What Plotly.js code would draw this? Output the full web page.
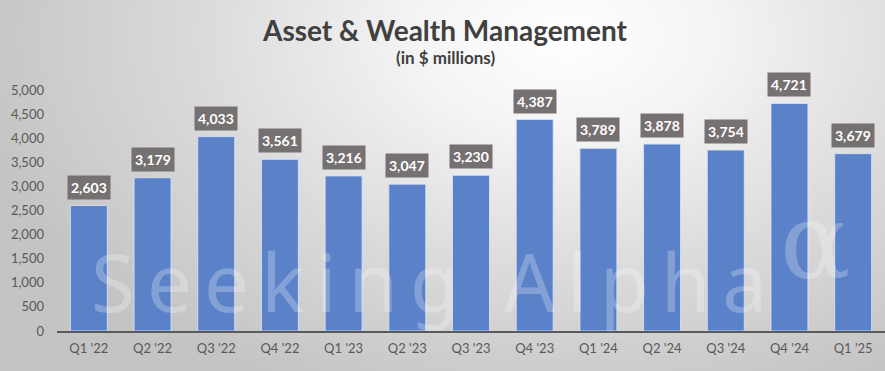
<!DOCTYPE html>
<html>
<head>
<meta charset="utf-8">
<script src="https://cdn.plot.ly/plotly-3.0.1.min.js"></script>
<style>
html,body{margin:0;padding:0;}
body{width:885px;height:371px;overflow:hidden;
background: radial-gradient(ellipse 68% 105% at 64% 10%, #ffffff 0%, #f4f4f4 25%, #dadada 62%, #c4c4c4 100%);}
#chart{width:885px;height:371px;}
g.annotation[data-index="13"] text{letter-spacing:12px;}
</style>
</head>
<body>
<div id="chart"></div>
<script>
const categories = ["Q1 '22","Q2 '22","Q3 '22","Q4 '22","Q1 '23","Q2 '23","Q3 '23","Q4 '23","Q1 '24","Q2 '24","Q3 '24","Q4 '24","Q1 '25"];
const revenue = [2603,3179,4033,3561,3216,3047,3230,4387,3789,3878,3754,4721,3679];
const yTicks = [0,500,1000,1500,2000,2500,3000,3500,4000,4500,5000];
const titleText = "Asset & Wealth Management";
const subtitleText = "(in $ millions)";
const watermarkText = "Seeking Alpha";
const watermarkSymbol = "α";

const fmt = v => v.toLocaleString('en-US');

const trace = {
  type: 'bar',
  x: categories,
  y: revenue,
  marker: {color: '#5b82c9', line: {color: 'rgba(220,230,250,0.8)', width: 1}},
  width: 0.58,
  hoverinfo: 'x+y'
};

const annotations = categories.map((c, i) => ({
  x: c, y: revenue[i], xref: 'x', yref: 'y',
  text: '<b>' + fmt(revenue[i]) + '</b>',
  showarrow: false, yanchor: 'bottom', yshift: 6,
  bgcolor: '#767171', borderpad: 3,
  font: {family: 'Lato, "Open Sans", sans-serif', size: 14, color: '#ffffff'}
}));

// plot area: x 57..885 (828px), y 90..331 (241px)
annotations.push({
  xref: 'paper', yref: 'paper', x: (435 - 57) / 828, y: (331 - 310) / 241 - 0.11, xanchor: 'center', yanchor: 'bottom',
  text: watermarkText, showarrow: false,
  font: {family: '"Noto Sans", sans-serif', size: 80, color: 'rgba(255,255,255,0.25)'}
});
annotations.push({
  xref: 'paper', yref: 'paper', x: (815 - 57) / 828, y: (331 - 242) / 241, xanchor: 'center', yanchor: 'middle',
  text: watermarkSymbol, showarrow: false,
  font: {family: '"DejaVu Serif", serif', size: 104, color: 'rgba(255,255,255,0.25)'}
});
annotations.push({
  xref: 'paper', yref: 'paper', x: (445 - 57) / 828, y: (331 - 30) / 241, xanchor: 'center', yanchor: 'middle',
  text: '<b>' + titleText + '</b>', showarrow: false,
  font: {family: 'Lato, sans-serif', size: 28, color: '#404040'}
});
annotations.push({
  xref: 'paper', yref: 'paper', x: (445 - 57) / 828, y: (331 - 57) / 241, xanchor: 'center', yanchor: 'middle',
  text: '<b>' + subtitleText + '</b>', showarrow: false,
  font: {family: 'Lato, sans-serif', size: 17, color: '#404040'}
});

const layout = {
  width: 885, height: 371,
  margin: {l: 57, r: 0, t: 90, b: 40},
  paper_bgcolor: 'rgba(0,0,0,0)',
  plot_bgcolor: 'rgba(0,0,0,0)',
  showlegend: false,
  bargap: 0.42,
  xaxis: {
    type: 'category', showgrid: false, zeroline: false,
    showline: true, linecolor: '#5a5a5a', linewidth: 2,
    ticks: '', tickfont: {family: 'Lato, sans-serif', size: 13, color: '#595959'},
    ticklabelstandoff: 4
  },
  yaxis: {
    range: [0, 5000], tickvals: yTicks, ticktext: yTicks.map(fmt),
    showgrid: false, zeroline: false, showline: false, ticks: '',
    tickfont: {family: 'Lato, sans-serif', size: 13, color: '#595959'},
    ticklabelstandoff: 12
  },
  annotations: annotations
};

Plotly.newPlot('chart', [trace], layout, {displayModeBar: false, staticPlot: true});
</script>
</body>
</html>
